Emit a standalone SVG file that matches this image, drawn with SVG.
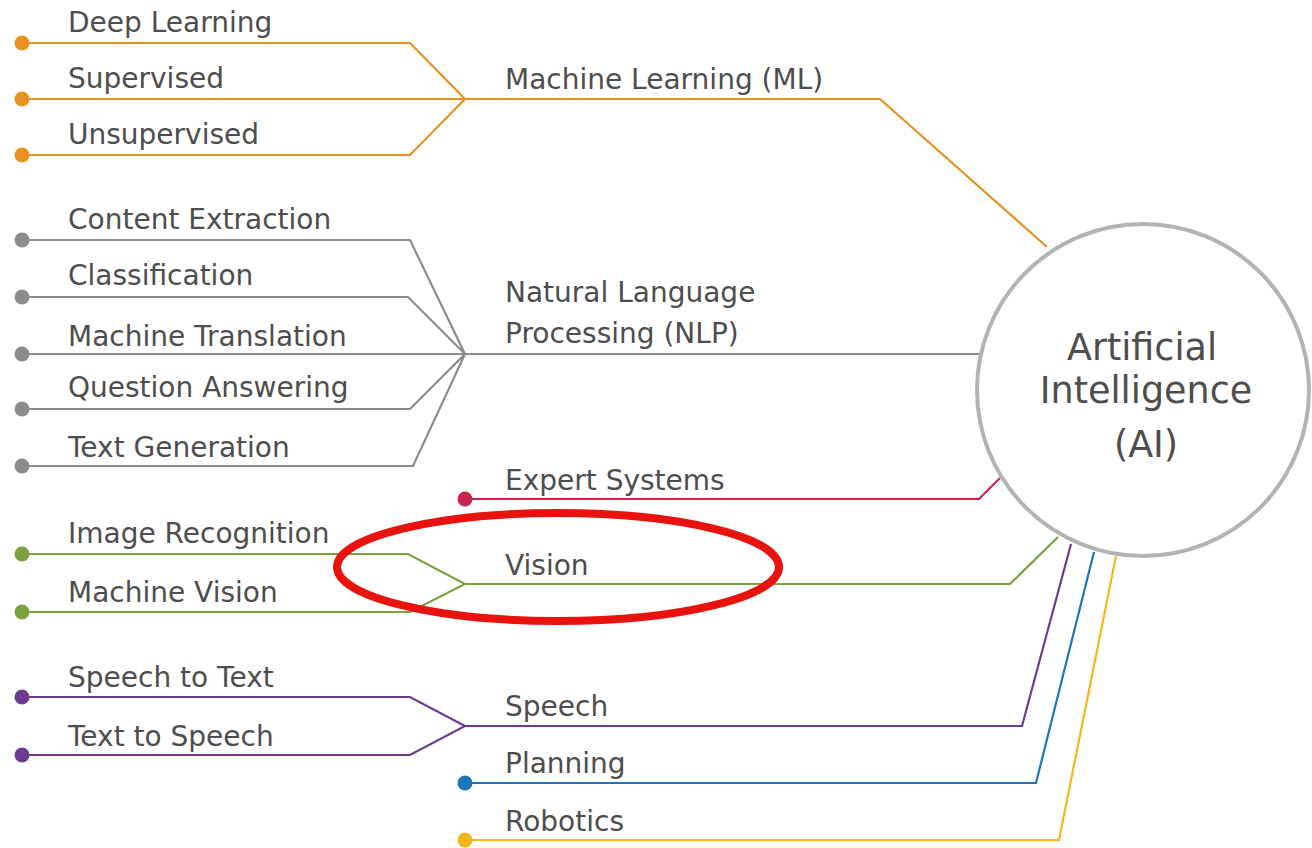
<svg xmlns="http://www.w3.org/2000/svg" width="1312" height="848" viewBox="0 0 1312 848">
<style>
.t{font-family:"DejaVu Sans","Liberation Sans",sans-serif;font-size:28px;fill:#4d4d4d}
.c{font-family:"DejaVu Sans","Liberation Sans",sans-serif;font-size:36.5px;fill:#4d4d4d;text-anchor:middle}
.l{fill:none;stroke-width:2.2;stroke-linejoin:miter}
.or{stroke:#e8911f}.gr{stroke:#8c8c8c}.pk{stroke:#c9264e}.gn{stroke:#7ba23f}.pu{stroke:#6c3b8f}.bl{stroke:#1c76bb}.ye{stroke:#f2b51c}
</style>
<rect width="1312" height="848" fill="#fff"/>
<g id="connectors">
<path class="l or" d="M22 43H410L465 99L410 155H22M22 99H880L1047 247"/>
<path class="l gr" d="M22 240H410L465 354L408 297H22M22 354H980M22 409H410L465 354L413 466H22"/>
<path class="l pk" d="M465 499H979L1000 478"/>
<path class="l gn" d="M22 554H408L465 584L410 612H22M465 584H1010L1058 537"/>
<path class="l pu" d="M22 697H410L465 726L410 755H22M465 726H1022L1071 544"/>
<path class="l bl" d="M465 783H1036L1094 552"/>
<path class="l ye" d="M465 840H1059L1116 556"/>
</g>
<g id="dots">
<g fill="#e8911f"><circle cx="22" cy="43" r="7.5"/><circle cx="22" cy="99" r="7.5"/><circle cx="22" cy="155" r="7.5"/></g>
<g fill="#8c8c8c"><circle cx="22" cy="240" r="7.5"/><circle cx="22" cy="297" r="7.5"/><circle cx="22" cy="354" r="7.5"/><circle cx="22" cy="409" r="7.5"/><circle cx="22" cy="466" r="7.5"/></g>
<circle cx="465" cy="499" r="7.5" fill="#c9264e"/>
<g fill="#7ba23f"><circle cx="22" cy="554" r="7.5"/><circle cx="22" cy="612" r="7.5"/></g>
<g fill="#6c3b8f"><circle cx="22" cy="697" r="7.5"/><circle cx="22" cy="755" r="7.5"/></g>
<circle cx="465" cy="783" r="7.5" fill="#1c76bb"/>
<circle cx="465" cy="840" r="7.5" fill="#f2b51c"/>
</g>
<g id="ai">
<circle cx="1143" cy="390" r="166" fill="#fff" stroke="#b3b3b3" stroke-width="4"/>
<text class="c" x="1142" y="360">Artificial</text>
<text class="c" x="1146" y="403">Intelligence</text>
<text class="c" x="1146" y="457">(AI)</text>
</g>
<g id="ml"><text class="t" x="505" y="89">Machine Learning (ML)</text>
<text class="t" x="68" y="32">Deep Learning</text>
<text class="t" x="68" y="88">Supervised</text>
<text class="t" x="68" y="144">Unsupervised</text></g>
<g id="nlp"><text class="t" x="505" y="302">Natural Language</text>
<text class="t" x="505" y="343">Processing (NLP)</text>
<text class="t" x="68" y="229">Content Extraction</text>
<text class="t" x="68" y="285">Classification</text>
<text class="t" x="68" y="346">Machine Translation</text>
<text class="t" x="68" y="397">Question Answering</text>
<text class="t" x="68" y="457">Text Generation</text></g>
<g id="expert"><text class="t" x="505" y="490">Expert Systems</text></g>
<g id="vision"><text class="t" x="505" y="575">Vision</text>
<text class="t" x="68" y="543">Image Recognition</text>
<text class="t" x="68" y="602">Machine Vision</text></g>
<g id="speech"><text class="t" x="505" y="716">Speech</text>
<text class="t" x="68" y="687">Speech to Text</text>
<text class="t" x="68" y="746">Text to Speech</text></g>
<g id="planning"><text class="t" x="505" y="773">Planning</text></g>
<g id="robotics"><text class="t" x="505" y="831">Robotics</text></g>
<ellipse id="highlight" cx="558" cy="567" rx="221" ry="54" fill="none" stroke="#e8130f" stroke-width="8"/>
</svg>
